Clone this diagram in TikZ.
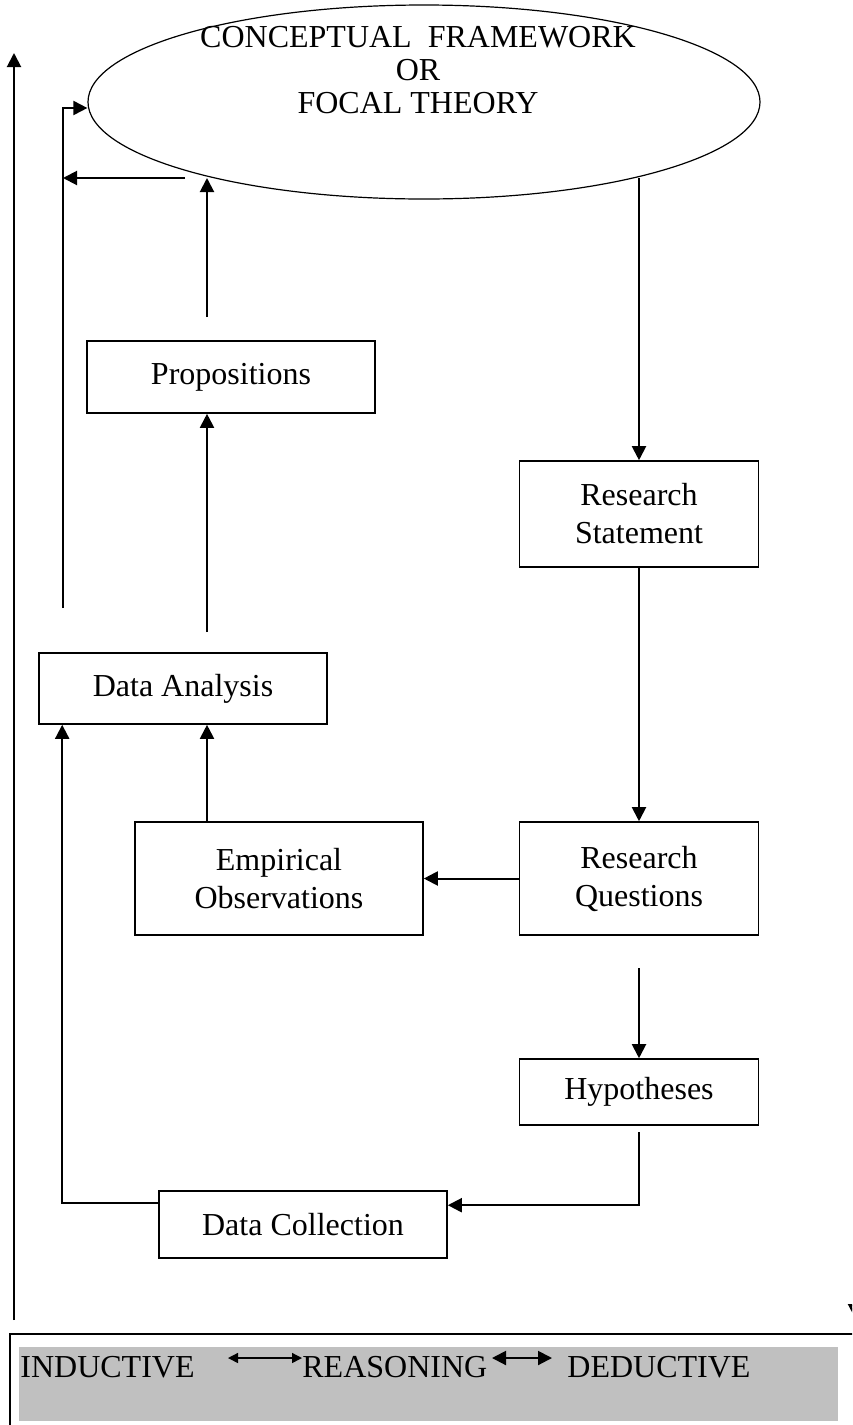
\documentclass[tikz,border=0pt]{standalone}
\usepackage{fontspec}
\setmainfont{Liberation Serif}
\usetikzlibrary{arrows.meta,shapes.geometric}
\definecolor{barfill}{RGB}{192,192,192}

\begin{document}
\begin{tikzpicture}[x=0.5pt,y=-0.5pt,
    box/.style={draw,line width=0.8pt,inner sep=0pt,align=center,font=\fontsize{16}{19}\selectfont},
    arr/.style={line width=1pt,-{Triangle[length=7pt,width=7pt]}},
    dbl/.style={line width=0.7pt,{Triangle[length=5pt,width=5pt]}-{Triangle[length=5pt,width=5pt]}},
    bartext/.style={anchor=base west,inner sep=0pt,font=\fontsize{16}{20}\selectfont}]
\useasboundingbox (0,0) rectangle (852,1425);
\clip (0,0) rectangle (852,1425);
    % focal theory
    \node[draw,line width=0.6pt,ellipse,minimum width=336pt,minimum height=97pt] (frame) at (424,102) {};
    \node[align=center,font=\fontsize{16}{16.5}\selectfont] (frametext) at (418,70) {CONCEPTUAL\ \ FRAMEWORK\\OR\\FOCAL THEORY};
    % boxes
    \node[box,minimum width=144pt,minimum height=36pt] (prop) at (231,377) {Propositions};
    \node[box,minimum width=144pt,minimum height=35.5pt] (anal) at (183,688.5) {Data Analysis};
    \node[box,minimum width=144pt,minimum height=56.5pt] (emp) at (279,878.5) {Empirical\\Observations};
    \node[box,minimum width=119.5pt,minimum height=53pt] (stat) at (639,514) {Research\\Statement};
    \node[box,minimum width=119.5pt,minimum height=56.5pt] (quest) at (639,878.5) {Research\\Questions};
    \node[box,minimum width=119.5pt,minimum height=33pt] (hyp) at (639,1092) {Hypotheses};
    \node[box,minimum width=144pt,minimum height=33.5pt] (coll) at (303,1224.5) {Data Collection};
    % free ends
    \coordinate (fs) at (639,178);
    \coordinate (qgap) at (639,968);
    \coordinate (hgap) at (639,1132);
    \coordinate (mid) at (207,0);
    \coordinate (agap) at (207,632);
    \coordinate (pgap) at (207,317);
    \coordinate (ftip) at (207,178);
    \coordinate (fb) at (185,178);
    \coordinate (back) at (63,178);
    \coordinate (backb) at (63,608);
    \coordinate (longb) at (14,1320);
    \coordinate (longt) at (14,53);
    \coordinate (cuta) at (855,1240);
    \coordinate (cutb) at (855,1318);
    % connectors
    \draw[arr] (fs) -- (stat.north);
    \draw[arr] (stat) -- (quest);
    \draw[arr] (qgap) -- (hyp);
    \draw[arr] (hgap) |- ([yshift=-7.5pt]coll.north east);
    \draw[arr] ([yshift=-6.5pt]coll.north west) -| ([xshift=12pt]anal.south west);
    \draw[arr] (quest) -- (emp);
    \draw[arr] (emp.north -| mid) -- (anal.south -| mid);
    \draw[arr] (agap) -- (prop.south -| agap);
    \draw[arr] (pgap) -- (ftip);
    \draw[arr] (fb) -- (back);
    \draw[arr] (backb) |- ([yshift=-3pt]frame.west);
    \draw[arr] (longb) -- (longt);
    \draw[arr] (cuta) -- (cutb);
    % reasoning bar
    \draw[line width=0.8pt] (10,1450) -- (10,1334) -- (880,1334);
    \fill[barfill] (19,1347) rectangle (838,1421);
    \node[bartext] (ind) at (20,1377) {INDUCTIVE};
    \node[bartext] (reas) at (302,1377) {REASONING};
    \node[bartext] (ded) at (567,1377) {DEDUCTIVE};
    \coordinate (a1) at (228,1358);
    \coordinate (a2) at (302,1358);
    \coordinate (a3) at (492,1358);
    \coordinate (a4) at (552,1358);
    \draw[dbl] (a1) -- (a2);
    \draw[line width=1pt,{Triangle[length=7pt,width=7pt]}-{Triangle[length=7pt,width=7pt]}] (a3) -- (a4);
\end{tikzpicture}
\end{document}
